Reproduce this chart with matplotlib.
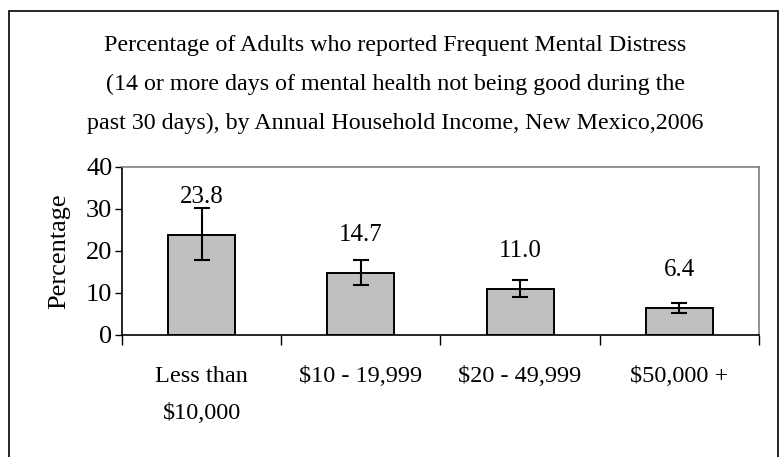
import matplotlib
matplotlib.use("Agg")
import matplotlib.pyplot as plt
from matplotlib.patches import Rectangle
import numpy as np

# Frequent mental distress by annual household income, NM 2006
categories = ["Less than\n$10,000", "$10 - 19,999", "$20 - 49,999", "$50,000 +"]
values = [23.8, 14.7, 11.0, 6.4]
ci_low = [17.9, 11.9, 9.0, 5.3]
ci_high = [30.3, 17.9, 13.1, 7.7]
yticks = [0, 10, 20, 30, 40]

title = ("Percentage of Adults who reported Frequent Mental Distress\n"
         "(14 or more days of mental health not being good during the\n"
         "past 30 days), by Annual Household Income, New Mexico,2006")

plt.rcParams['font.family'] = ['Liberation Serif', 'DejaVu Serif']

fig = plt.figure(figsize=(7.83, 4.57), dpi=100)
ax = fig.add_axes([0.1558, 0.2670, 0.8135, 0.3676])

x = np.arange(len(values))
vals = np.array(values)
err = [vals - np.array(ci_low), np.array(ci_high) - vals]

ax.bar(x, vals, width=0.42, color='#C0C0C0', edgecolor='black', linewidth=1.4, zorder=2)
ax.errorbar(x, vals, yerr=err, fmt='none', ecolor='black', elinewidth=1.5,
            capsize=6, capthick=1.5, zorder=3)

for xi, v in zip(x, values):
    ax.text(xi, v + 9.0, f"{v:.1f}", ha='center', va='center', fontsize=18)

ax.set_xlim(-0.5, len(values) - 0.5)
ax.set_ylim(0, 40)
ax.set_yticks(yticks)
ax.tick_params(axis='y', labelsize=19, length=5, width=1, direction='out', pad=2)

# ticks at category boundaries, labels at centres
ax.set_xticks(np.arange(-0.5, len(values), 1.0))
ax.set_xticklabels([])
ax.tick_params(axis='x', which='major', length=7, width=1, direction='out')
ax.set_xticks(x, minor=True)
ax.set_xticklabels(categories, minor=True, fontsize=17.5, linespacing=2.0, va='top')
ax.tick_params(axis='x', which='minor', length=0, pad=22)

ax.set_ylabel("Percentage", fontsize=19, labelpad=11)

for s in ['top', 'right']:
    ax.spines[s].set_color('#808080')
    ax.spines[s].set_linewidth(1.2)
for s in ['left', 'bottom']:
    ax.spines[s].set_color('black')
    ax.spines[s].set_linewidth(1.2)

fig.text(0.505, 0.815, title, ha='center', va='center', fontsize=17.3, linespacing=2.1)

# outer chart border
fig.patches.append(Rectangle((9 / 783, -0.02), 769 / 783, 1 - 11 / 457 + 0.02,
                             transform=fig.transFigure, fill=False,
                             edgecolor='black', linewidth=1.2))

fig.savefig("out.png", dpi=100)
